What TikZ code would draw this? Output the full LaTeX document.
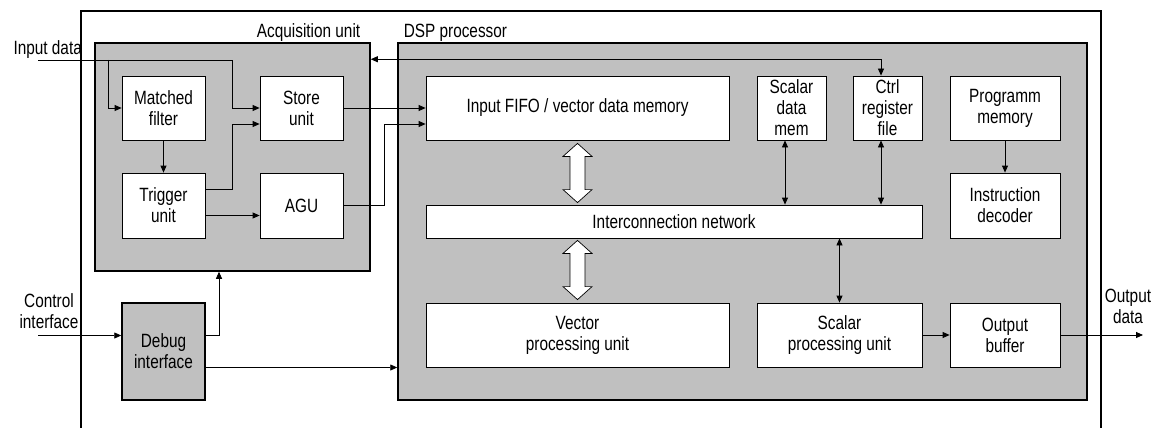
\documentclass[tikz,border=0pt]{standalone}
\usepackage{fontspec}
\setmainfont[FakeStretch=0.8]{Liberation Sans}
\usetikzlibrary{arrows.meta,calc}
\definecolor{unitGray}{HTML}{C0C0C0}
\newcommand{\hollowArrow}[2]{%
  \draw[fill=white,line width=0.7pt] (#1) -- ++(14.5pt,-13pt) -- ++(-7pt,0pt)
    -- ($(#2)+(7.5pt,13pt)$) -- ++(7pt,0pt) -- (#2) -- ++(-14.5pt,13pt)
    -- ++(7pt,0pt) -- ($(#1)+(-7.5pt,-13pt)$) -- ++(-7pt,0pt) -- cycle;}

\begin{document}
\begin{tikzpicture}[x=1pt,y=-1pt,
  font=\fontsize{19.2pt}{21pt}\selectfont,
  block/.style={draw,line width=0.8pt,fill=white,align=center,inner sep=0pt,
    minimum width=83pt,minimum height=64pt},
  unit/.style={draw,line width=1.5pt,fill=unitGray,align=center,inner sep=0pt},
  arr/.style={line width=0.8pt,-{Triangle[length=7pt,width=6pt]}},
  darr/.style={line width=0.8pt,{Triangle[length=7pt,width=6pt]}-{Triangle[length=7pt,width=6pt]}}]
\useasboundingbox (0,0) rectangle (1159,428);
% outer frame
\draw[line width=1.6pt] (81,428) -- (81,11) -- (1101,11) -- (1101,428);
% grey units
\node[unit,minimum width=275pt,minimum height=228pt] (acq) at (232.5,157) {};
\node[unit,minimum width=689pt,minimum height=357pt] (dsp) at (742.5,221.5) {};
\node[anchor=base east] (acqLabel) at ([xshift=-7pt,yshift=4.5pt]acq.north east) {Acquisition unit};
\node[anchor=base west] (dspLabel) at ([xshift=3pt,yshift=4.5pt]dsp.north west) {DSP processor};
\node[unit,minimum width=83pt,minimum height=97pt] (dbg) at (163.5,351.5) {Debug\\interface};
% acquisition blocks
\node[block] (mf) at (163.5,108) {Matched\\filter};
\node[block] (store) at (301.5,108) {Store\\unit};
\node[block,minimum height=65pt] (trig) at (163.5,205.5) {Trigger\\unit};
\node[block,minimum height=65pt] (agu) at (301.5,205.5) {AGU};
% dsp blocks
\node[block,minimum width=303pt] (fifo) at (577.5,108) {Input FIFO / vector data memory};
\node[block,minimum width=69pt] (sdm) at (791.5,108) {Scalar\\data\\mem};
\node[block,minimum width=69pt] (ctrl) at (887.5,108) {Ctrl\\register\\file};
\node[block,minimum width=110pt] (pm) at (1005,108) {Programm\\memory};
\node[block,minimum width=110pt,minimum height=65pt] (idec) at (1005,205.5) {Instruction\\decoder};
\node[block,minimum width=496pt,minimum height=33pt] (icn) at (674,221.5) {Interconnection network};
\node[block,minimum width=303pt] (vpu) at (577.5,335) {Vector\\processing unit};
\node[block,minimum width=165pt] (spu) at (839.5,335) {Scalar\\processing unit};
\node[block,minimum width=110pt] (ob) at (1005,335) {Output\\buffer};
% outside labels
\node[anchor=base west] (inLabel) at (10,55) {Input data};
\node[align=center] (ctrlLabel) at (49,311) {Control\\interface};
\node[align=center] (outLabel) at (1128,306) {Output\\data};
\coordinate (inData) at (38,60);
\coordinate (ctrlIn) at (38,335.5);
\coordinate (outData) at (1143,335);
% acquisition paths
\draw[arr] (inData) -| ([xshift=-27pt]store.west) -- (store.west);
\draw[arr] ([xshift=70pt]inData) |- (mf.west);
\draw[arr] (mf) -- (trig);
\draw[arr] ([yshift=16pt]trig.east) -| ([xshift=-27pt,yshift=-16pt]store.west) -- ([yshift=-16pt]store.west);
\draw[arr] ([yshift=-10pt]trig.east) -- ([yshift=-10pt]agu.west);
\draw[arr] (store) -- (fifo);
\draw[arr] (agu.east) -| ([xshift=-41pt,yshift=-16pt]fifo.west) -- ([yshift=-16pt]fifo.west);
\draw[darr] ([yshift=-17pt]acq.north east) -| ([xshift=-6.5pt]ctrl.north);
% buses inside the dsp
\coordinate (sdmPort) at ([xshift=-6.5pt]sdm.south);
\coordinate (ctrlPort) at ([xshift=-6.5pt]ctrl.south);
\draw[darr] (sdmPort) -- (sdmPort |- icn.north);
\draw[darr] (ctrlPort) -- (ctrlPort |- icn.north);
\draw[darr] (spu.north |- icn.south) -- (spu.north);
\draw[arr] (pm) -- (idec);
\draw[arr] (spu) -- (ob);
\draw[arr] (ob) -- (outData);
\path (fifo.south) ++(0,3) coordinate (hA1);
\path (fifo.south |- icn.north) ++(0,-2) coordinate (hA2);
\path (fifo.south |- icn.south) ++(0,2) coordinate (hA3);
\path (vpu.north) ++(0,-3) coordinate (hA4);
\hollowArrow{hA1}{hA2}
\hollowArrow{hA3}{hA4}
% debug paths
\draw[arr] (ctrlIn) -- ([yshift=16pt]dbg.west);
\draw[arr] ([yshift=16pt]dbg.east) -| ([xshift=-13.5pt]acq.south);
\coordinate (dbgLow) at ([yshift=-16pt]dbg.east);
\draw[arr] (dbgLow) -- (dbgLow -| dsp.west);
\end{tikzpicture}
\end{document}
